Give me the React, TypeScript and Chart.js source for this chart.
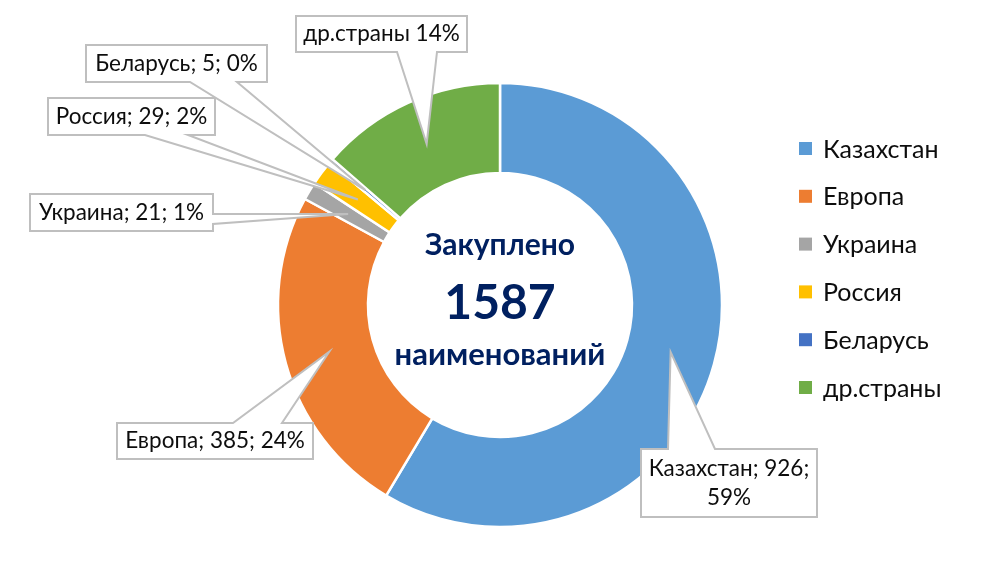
import React, { useEffect, useRef } from "react";
import { Chart, registerables } from "chart.js";
Chart.register(...registerables);

const categories = ["Казахстан", "Европа", "Украина", "Россия", "Беларусь", "др.страны"];
const values = [926, 385, 21, 29, 5, 215];
const colors = ["#5B9BD5", "#ED7D31", "#A5A5A5", "#FFC000", "#4472C4", "#70AD47"];
const centerLines = ["Закуплено", "1587", "наименований"];

const FONT = "Lato, 'Noto Sans', sans-serif";

// callout box layout (positions only)
const callouts = [
  { x: 641, y: 449, w: 176, h: 68, edge: "top", p1: 668, p2: 715, style: "wrap" },
  { x: 117, y: 423, w: 196, h: 36, edge: "top", p1: 233, p2: 282, style: "full" },
  { x: 30, y: 194, w: 183, h: 37, edge: "right", p1: 214, p2: 224, style: "full" },
  { x: 48, y: 98, w: 167, h: 37, edge: "bottom", p1: 145, p2: 188, style: "full" },
  { x: 86, y: 45, w: 181, h: 37, edge: "bottom", p1: 190, p2: 237, style: "full" },
  { x: 296, y: 16, w: 171, h: 36, edge: "bottom", p1: 397, p2: 437, style: "pct" },
];

function calloutPath(ctx: CanvasRenderingContext2D, b: any, tip: { x: number; y: number }) {
  const { x, y, w, h, edge, p1, p2 } = b;
  const r = x + w, btm = y + h;
  ctx.beginPath();
  ctx.moveTo(x, y);
  if (edge === "top") { ctx.lineTo(p1, y); ctx.lineTo(tip.x, tip.y); ctx.lineTo(p2, y); }
  ctx.lineTo(r, y);
  if (edge === "right") { ctx.lineTo(r, p1); ctx.lineTo(tip.x, tip.y); ctx.lineTo(r, p2); }
  ctx.lineTo(r, btm);
  if (edge === "bottom") { ctx.lineTo(p2, btm); ctx.lineTo(tip.x, tip.y); ctx.lineTo(p1, btm); }
  ctx.lineTo(x, btm);
  ctx.closePath();
}

const overlayPlugin = {
  id: "overlay",
  afterDatasetsDraw(chart: any) {
    const ctx: CanvasRenderingContext2D = chart.ctx;
    const meta = chart.getDatasetMeta(0);
    const total = values.reduce((a, b) => a + b, 0);
    const cx = meta.data[0].x;
    const cy = meta.data[0].y;
    ctx.save();
    // center text
    ctx.fillStyle = "#002060";
    ctx.textAlign = "center";
    ctx.textBaseline = "alphabetic";
    ctx.font = `bold 30px ${FONT}`;
    ctx.fillText(centerLines[0], cx, cy - 50);
    ctx.font = `bold 48px ${FONT}`;
    ctx.fillText(centerLines[1], cx, cy + 14);
    ctx.font = `bold 31px ${FONT}`;
    ctx.fillText(centerLines[2], cx, cy + 60);

    // callouts
    callouts.forEach((b, i) => {
      const tip = meta.data[i].getCenterPoint();
      calloutPath(ctx, b, tip);
      ctx.fillStyle = "#FFFFFF";
      ctx.fill();
      ctx.strokeStyle = "#BFBFBF";
      ctx.lineWidth = 2;
      ctx.lineJoin = "miter";
      ctx.stroke();
      const pct = Math.round((values[i] / total) * 100) + "%";
      let lines: string[];
      if (b.style === "pct") lines = [`${categories[i]} ${pct}`];
      else if (b.style === "wrap") lines = [`${categories[i]}; ${values[i]};`, pct];
      else lines = [`${categories[i]}; ${values[i]}; ${pct}`];
      ctx.fillStyle = "#0D0D0D";
      ctx.font = `22.5px ${FONT}`;
      ctx.textAlign = "center";
      ctx.textBaseline = "middle";
      const lh = 29;
      const mx = b.x + b.w / 2;
      const my = b.y + b.h / 2;
      lines.forEach((t, k) => {
        ctx.fillText(t, mx, my + (k - (lines.length - 1) / 2) * lh);
      });
    });

    // legend
    ctx.textAlign = "left";
    ctx.textBaseline = "middle";
    ctx.font = `25px ${FONT}`;
    categories.forEach((c, i) => {
      const y = 148.5 + i * 47.8;
      ctx.fillStyle = colors[i];
      ctx.fillRect(799, y - 6.5, 13, 13);
      ctx.fillStyle = "#0D0D0D";
      ctx.fillText(c, 823, y + 1);
    });
    ctx.restore();
  },
};

export default function App() {
  const ref = useRef<HTMLCanvasElement>(null);
  useEffect(() => {
    const chart = new Chart(ref.current!, {
      type: "doughnut",
      data: {
        labels: categories,
        datasets: [
          {
            data: values,
            backgroundColor: colors,
            borderColor: "#FFFFFF",
            borderWidth: 2.5,
          },
        ],
      },
      options: {
        responsive: false,
        animation: false,
        devicePixelRatio: 1,
        radius: 222,
        cutout: `${(132 / 222) * 100}%`,
        layout: { padding: { top: 60, bottom: 13, left: 200, right: 200 } },
        plugins: { legend: { display: false }, tooltip: { enabled: false } },
      } as any,
      plugins: [overlayPlugin],
    });
    return () => chart.destroy();
  }, []);
  return (
    <div style={{ position: "fixed", left: 0, top: 0, width: 1000, height: 563, background: "#fff" }}>
      <canvas ref={ref} width={1000} height={563} />
    </div>
  );
}
